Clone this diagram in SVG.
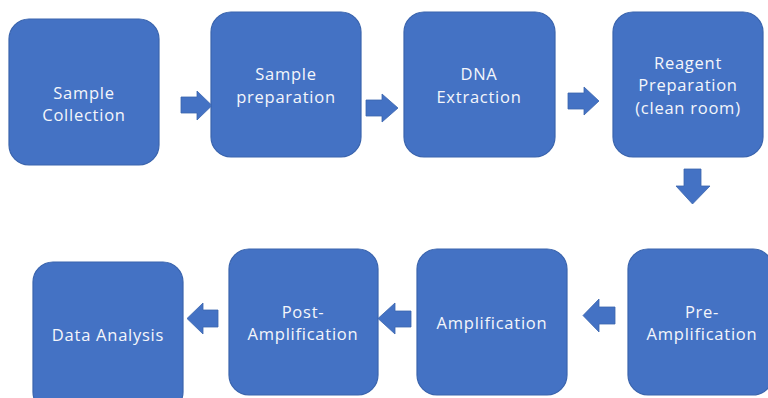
<svg xmlns="http://www.w3.org/2000/svg" width="768" height="398" viewBox="0 0 768 398">
<style>
.box{fill:#4472C4;stroke:#3A64AD;stroke-width:1.2}
.t{font-family:"Open Sans","Noto Sans",sans-serif;font-size:16.5px;letter-spacing:0.75px;fill:#F4F6FB;text-anchor:middle}
.arr{fill:#4472C4;stroke:#3A64AD;stroke-width:0.8}
</style>
<rect width="768" height="398" fill="#FFFFFF"/>
<g id="n1"><rect class="box" x="9" y="19" width="150" height="146" rx="20"/><text class="t" x="84" y="99">Sample</text><text class="t" x="84" y="121">Collection</text></g>
<g id="n2"><rect class="box" x="211" y="12" width="150" height="145" rx="20"/><text class="t" x="286" y="80">Sample</text><text class="t" x="286" y="103">preparation</text></g>
<g id="n3"><rect class="box" x="404" y="12" width="151" height="145" rx="20"/><text class="t" x="479" y="80">DNA</text><text class="t" x="479" y="103">Extraction</text></g>
<g id="n4"><rect class="box" x="613" y="12" width="150" height="145" rx="20"/><text class="t" x="688" y="69">Reagent</text><text class="t" x="688" y="91">Preparation</text><text class="t" x="688" y="114">(clean room)</text></g>
<g id="n5"><rect class="box" x="628" y="249" width="145" height="146" rx="20"/><text class="t" x="702" y="318">Pre-</text><text class="t" x="702" y="340">Amplification</text></g>
<g id="n6"><rect class="box" x="417" y="249" width="150" height="146" rx="20"/><text class="t" x="492" y="329">Amplification</text></g>
<g id="n7"><rect class="box" x="229" y="249" width="149" height="146" rx="20"/><text class="t" x="303" y="318">Post-</text><text class="t" x="303" y="340">Amplification</text></g>
<g id="n8"><rect class="box" x="33" y="262" width="150" height="150" rx="20"/><text class="t" x="108" y="341">Data Analysis</text></g>
<g id="connectors">
<polygon class="arr" points="181,97 197,97 197,91 212,105.5 197,120 197,113 181,113"/>
<polygon class="arr" points="366,100 382,100 382,94 398,108 382,122 382,116 366,116"/>
<polygon class="arr" points="568,93 584,93 584,87 599,101 584,115 584,109 568,109"/>
<polygon class="arr" points="684,169 701,169 701,186 710,186 692.5,204 676,186 684,186"/>
<polygon class="arr" points="615,307 599,307 599,299 583,315.5 599,332 599,324 615,324"/>
<polygon class="arr" points="411,311 395,311 395,303 378,318.5 395,334 395,327 411,327"/>
<polygon class="arr" points="218,310 203,310 203,303 187,318.5 203,334 203,327 218,327"/>
</g>
</svg>
